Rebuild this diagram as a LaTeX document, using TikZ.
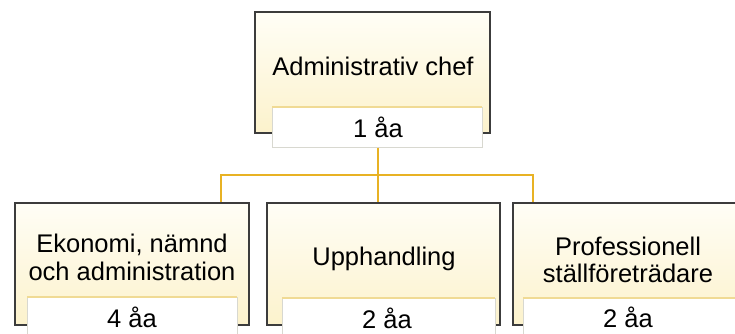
\documentclass[tikz,border=0pt]{standalone}
\usepackage{fontspec}
\setmainfont{Liberation Sans}
\begin{document}
\definecolor{frame}{HTML}{3C3C3C}
\definecolor{link}{HTML}{E8B224}
\definecolor{creamtop}{HTML}{FFFEF6}
\definecolor{creambot}{HTML}{FCF2CC}
\definecolor{tagline}{HTML}{F0DA94}
\definecolor{tagedge}{HTML}{D8D8D0}
\begin{tikzpicture}[x=1pt,y=-1pt,
  unit/.style={draw=frame,line width=1.3pt,top color=creamtop,bottom color=creambot},
  tag/.style={fill=white,draw=tagedge,line width=0.4pt},
  tagtop/.style={draw=tagline,line width=1.2pt},
  wire/.style={draw=link,line width=1.4pt},
  txt/.style={anchor=base,font=\fontsize{25.5}{28}\selectfont,inner sep=0pt}]
\useasboundingbox (0,0) rectangle (735,334);
\clip (0,0) rectangle (735,334);
\fill[white] (0,0) rectangle (735,334);

% top unit
\path[unit] (255,12) rectangle (490,133);
\path[tag] (272,107) rectangle (482,147);
\draw[tagtop] (272,107) -- (482,107);
\node[txt] (chef) at (373,76) {Administrativ chef};
\node[txt] (chefn) at (378,137) {1 åa};

% bottom units
\path[unit] (15,203) rectangle (249,325);
\path[tag] (27,297) rectangle (237,345);
\draw[tagtop] (27,297) -- (237,297);
\path[unit] (267,203) rectangle (500,325);
\path[tag] (282,298) rectangle (495,345);
\draw[tagtop] (282,298) -- (495,298);
\path[unit] (513,203) rectangle (752,325);
\path[tag] (523,298) rectangle (745,345);
\draw[tagtop] (523,298) -- (745,298);

\node[txt] (eko1) at (132,252) {Ekonomi, nämnd};
\node[txt] (eko2) at (132,280) {och administration};
\node[txt] (ekon) at (132,327) {4 åa};
\node[txt] (upp) at (384,265) {Upphandling};
\node[txt] (uppn) at (387,328) {2 åa};
\node[txt] (pro1) at (628,255) {Professionell};
\node[txt] (pro2) at (628,282) {ställföreträdare};
\node[txt] (pron) at (628,327) {2 åa};

% connectors
\coordinate (tagfoot) at (378,147.6);
\coordinate (hub) at (378,175);
\coordinate (lefttop) at (221,202.4);
\coordinate (midtop) at (378,202.4);
\coordinate (righttop) at (533,202.4);
\draw[wire] (tagfoot) -- (midtop);
\draw[wire] (lefttop) |- (hub) -| (righttop);
\end{tikzpicture}
\end{document}
